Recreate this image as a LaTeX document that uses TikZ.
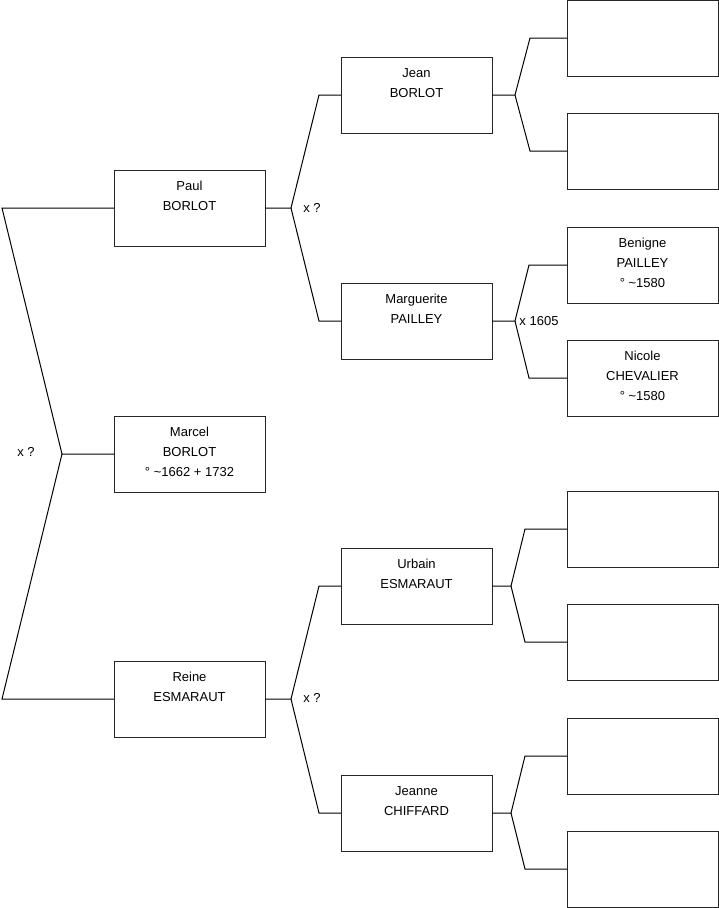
\documentclass[tikz,border=0pt]{standalone}
\usepackage{fontspec}
\setmainfont{Liberation Sans}
\begin{document}
\begin{tikzpicture}[x=1pt,y=-1pt,
  pbox/.style={draw=black!85,line width=1pt,minimum width=151pt,minimum height=76pt,inner sep=0pt,outer sep=0pt},
  ptext/.style={anchor=north,inner sep=0pt,align=center,font=\fontsize{13}{20}\selectfont,yshift=-6pt},
  link/.style={draw=black,line width=1pt},
  lbl/.style={inner sep=0pt,font=\fontsize{13}{14}\selectfont}]
\useasboundingbox (0,0) rectangle (719,908);
% generation 1
\node[pbox] (marcel) at (189.5,454) {};
\node[ptext] (marceltxt) at (marcel.north) {\rule{0pt}{14pt}Marcel\\BORLOT\\° \textasciitilde1662 + 1732};
% generation 2
\node[pbox] (paul) at (189.5,208) {};
\node[ptext] (paultxt) at (paul.north) {\rule{0pt}{14pt}Paul\\BORLOT};
\node[pbox] (reine) at (189.5,699) {};
\node[ptext] (reinetxt) at (reine.north) {\rule{0pt}{14pt}Reine\\ESMARAUT};
% generation 3
\node[pbox] (jean) at (416.5,95) {};
\node[ptext] (jeantxt) at (jean.north) {\rule{0pt}{14pt}Jean\\BORLOT};
\node[pbox] (marg) at (416.5,321) {};
\node[ptext] (margtxt) at (marg.north) {\rule{0pt}{14pt}Marguerite\\PAILLEY};
\node[pbox] (urbain) at (416.5,586) {};
\node[ptext] (urbaintxt) at (urbain.north) {\rule{0pt}{14pt}Urbain\\ESMARAUT};
\node[pbox] (jeanne) at (416.5,813) {};
\node[ptext] (jeannetxt) at (jeanne.north) {\rule{0pt}{14pt}Jeanne\\CHIFFARD};
% generation 4
\node[pbox] (g1) at (642.5,38) {};
\node[pbox] (g2) at (642.5,151) {};
\node[pbox] (g3) at (642.5,265) {};
\node[ptext] (g3txt) at (g3.north) {\rule{0pt}{14pt}Benigne\\PAILLEY\\° \textasciitilde1580};
\node[pbox] (g4) at (642.5,378) {};
\node[ptext] (g4txt) at (g4.north) {\rule{0pt}{14pt}Nicole\\CHEVALIER\\° \textasciitilde1580};
\node[pbox] (g5) at (642.5,529) {};
\node[pbox] (g6) at (642.5,642) {};
\node[pbox] (g7) at (642.5,756) {};
\node[pbox] (g8) at (642.5,869) {};
% fork coordinates
\coordinate (f0) at (62,454);
\coordinate (f0a) at (2,208);
\coordinate (f0b) at (2,699);
\coordinate (fp) at (291,208);
\coordinate (fpa) at (319,95);
\coordinate (fpb) at (319,321);
\coordinate (fr) at (291,699);
\coordinate (fra) at (319,586);
\coordinate (frb) at (319,813);
\coordinate (fj) at (515,95);
\coordinate (fja) at (530,38);
\coordinate (fjb) at (530,151);
\coordinate (fm) at (515,321);
\coordinate (fma) at (529,265);
\coordinate (fmb) at (529,378);
\coordinate (fu) at (511,586);
\coordinate (fua) at (525,529);
\coordinate (fub) at (525,642);
\coordinate (fe) at (511,813);
\coordinate (fea) at (525,756);
\coordinate (feb) at (525,869);
% connectors
\draw[link] (marcel.west) -- (f0) -- (f0a) -- (paul.west);
\draw[link] (f0) -- (f0b) -- (reine.west);
\draw[link] (paul.east) -- (fp) -- (fpa) -- (jean.west);
\draw[link] (fp) -- (fpb) -- (marg.west);
\draw[link] (reine.east) -- (fr) -- (fra) -- (urbain.west);
\draw[link] (fr) -- (frb) -- (jeanne.west);
\draw[link] (jean.east) -- (fj) -- (fja) -- (g1.west);
\draw[link] (fj) -- (fjb) -- (g2.west);
\draw[link] (marg.east) -- (fm) -- (fma) -- (g3.west);
\draw[link] (fm) -- (fmb) -- (g4.west);
\draw[link] (urbain.east) -- (fu) -- (fua) -- (g5.west);
\draw[link] (fu) -- (fub) -- (g6.west);
\draw[link] (jeanne.east) -- (fe) -- (fea) -- (g7.west);
\draw[link] (fe) -- (feb) -- (g8.west);
% marriage labels
\node[lbl] (m0) at (26,452) {x ?};
\node[lbl] (m1) at (312,208) {x ?};
\node[lbl] (m2) at (312,698) {x ?};
\node[lbl] (m3) at (539,321) {x 1605};
\end{tikzpicture}
\end{document}
